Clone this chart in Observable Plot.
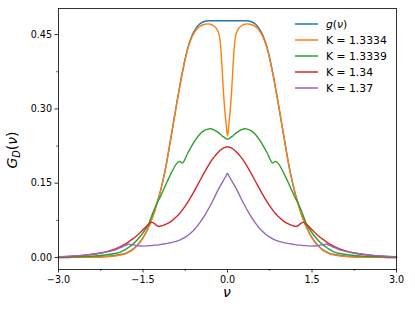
<!DOCTYPE html>
<html>
<head>
<meta charset="utf-8">
<script src="https://cdn.jsdelivr.net/npm/d3@7"></script>
<script src="https://cdn.jsdelivr.net/npm/@observablehq/plot@0.6"></script>
<style>
  body { margin: 0; background: #fff; }
  #wrap { position: relative; width: 415px; height: 311px; font-family: "DejaVu Sans", sans-serif; color: #000; }
  #legend { position: absolute; left: 295px; top: 16px; font-size: 10.8px; }
  .row { display: flex; align-items: center; height: 16px; white-space: nowrap; }
  .row svg { margin-right: 8px; display: block; }
  #ylab { position: absolute; left: 13px; top: 150px; transform: translate(-50%, -50%) rotate(-90deg); font-size: 14px; white-space: nowrap; }
  #xlab { position: absolute; left: 227px; top: 292px; transform: translate(-50%, -50%); font-size: 14px; }
  sub { font-size: 70%; vertical-align: -0.25em; }
</style>
</head>
<body>
<div id="wrap">
  <div id="chart"></div>
  <div id="legend"></div>
  <div id="ylab"><i>G</i><sub><i>D</i></sub>(<i>ν</i>)</div>
  <div id="xlab"><i>ν</i></div>
</div>
<script>
const nu = [-3.0,-2.75,-2.5,-2.25,-2.0,-1.9,-1.8,-1.75,-1.7,-1.6,-1.5,-1.4,-1.35,-1.3,-1.25,-1.2,-1.1,-1.0,-0.9,-0.85,-0.8,-0.7,-0.6,-0.5,-0.4,-0.3,-0.25,-0.2,-0.15,-0.125,-0.1,-0.075,-0.05,-0.025,0,0.025,0.05,0.075,0.1,0.125,0.15,0.2,0.25,0.3,0.4,0.5,0.6,0.7,0.8,0.85,0.9,1.0,1.1,1.2,1.25,1.3,1.35,1.4,1.5,1.6,1.7,1.75,1.8,1.9,2.0,2.25,2.5,2.75,3.0];

const gNu = [.0001,.0002,.0006,.0015,.004,.006,.009,.012,.015,.025,.040,.062,.076,.092,.111,.130,.180,.245,.312,.344,.375,.425,.455,.471,.477,.478,.478,.478,.478,.478,.478,.478,.478,.478,
  .478,
  .478,.478,.478,.478,.478,.478,.478,.478,.478,.477,.471,.455,.425,.375,.344,.312,.245,.180,.130,.111,.092,.076,.062,.040,.025,.015,.012,.009,.006,.004,.0015,.0006,.0002,.0001];

const k13334 = [.0001,.0002,.0004,.001,.003,.005,.008,.011,.014,.024,.039,.061,.075,.091,.110,.129,.179,.244,.311,.343,.373,.423,.452,.466,.471,.471,.468,.463,.450,.430,.390,.340,.300,.270,
  .245,
  .270,.300,.340,.390,.430,.450,.463,.468,.471,.471,.466,.452,.423,.373,.343,.311,.244,.179,.129,.110,.091,.075,.061,.039,.024,.014,.011,.008,.005,.003,.001,.0004,.0002,.0001];

const k13339 = [.0005,.001,.002,.004,.008,.011,.017,.021,.025,.036,.050,.068,.083,.097,.110,.121,.146,.170,.190,.194,.191,.212,.232,.248,.257,.260,.258,.255,.251,.249,.246,.244,.242,.240,
  .239,
  .240,.242,.244,.246,.249,.251,.255,.258,.260,.257,.248,.232,.212,.191,.194,.190,.170,.146,.121,.110,.097,.083,.068,.050,.036,.025,.021,.017,.011,.008,.004,.002,.001,.0005];

const k134 = [.0012,.0025,.005,.009,.017,.022,.028,.032,.036,.045,.056,.067,.071,.069,.064,.063,.067,.073,.083,.089,.096,.113,.132,.153,.174,.193,.201,.208,.214,.217,.219,.221,.222,.223,
  .223,
  .223,.222,.221,.219,.217,.214,.208,.201,.193,.174,.153,.132,.113,.096,.089,.083,.073,.067,.063,.064,.069,.071,.067,.056,.045,.036,.032,.028,.022,.017,.009,.005,.0025,.0012];

const k137 = [.0015,.003,.005,.009,.015,.020,.025,.027,.026,.024,.023,.024,.024,.025,.025,.026,.028,.030,.033,.035,.038,.045,.055,.069,.086,.106,.117,.129,.140,.145,.150,.155,.160,.165,
  .170,
  .165,.160,.155,.150,.145,.140,.129,.117,.106,.086,.069,.055,.045,.038,.035,.033,.030,.028,.026,.025,.025,.024,.024,.023,.024,.026,.027,.025,.020,.015,.009,.005,.003,.0015];

const seriesNames = ["g(ν)", "K = 1.3334", "K = 1.3339", "K = 1.34", "K = 1.37"];
const seriesValues = [gNu, k13334, k13339, k134, k137];
const colors = ["#1f77b4", "#ff7f0e", "#2ca02c", "#d62728", "#9467bd"];

const xTicks = [-3.0, -1.5, 0.0, 1.5, 3.0];
const xMinor = [-2.25, -0.75, 0.75, 2.25];
const yTicks = [0.00, 0.15, 0.30, 0.45];
const yMinor = [0.075, 0.225, 0.375];

const tables = seriesValues.map((vals, i) => nu.map((x, j) => ({nu: x, G: vals[j], series: seriesNames[i]})));

const fmtX = d => d.toFixed(1).replace("-", "\u2212");
const fmtY = d => d.toFixed(2);

const chart = Plot.plot({
  width: 415,
  height: 311,
  marginLeft: 58,
  marginRight: 19,
  marginTop: 8,
  marginBottom: 42,
  style: {fontFamily: "DejaVu Sans, sans-serif", fontSize: "9.6px", color: "#000", background: "#fff"},
  x: {domain: [-3, 3], label: null},
  y: {domain: [-0.0242, 0.5027], label: null},
  marks: [
    ...tables.map((t, i) => Plot.line(t, {x: "nu", y: "G", stroke: colors[i], strokeWidth: 1.4, curve: "catmull-rom"})),
    Plot.frame({stroke: "#000", strokeWidth: 0.8}),
    Plot.axisX({ticks: xTicks, tickFormat: fmtX, tickSize: 3.5, tickPadding: 3, stroke: "#000", strokeWidth: 0.8, fill: "#000", fontSize: 9.6}),
    Plot.axisX({ticks: xMinor, text: null, tickSize: 2, stroke: "#000", strokeWidth: 0.6}),
    Plot.axisY({ticks: yTicks, tickFormat: fmtY, tickSize: 3.5, tickPadding: 3, stroke: "#000", strokeWidth: 0.8, fill: "#000", fontSize: 9.6}),
    Plot.axisY({ticks: yMinor, text: null, tickSize: 2, stroke: "#000", strokeWidth: 0.6})
  ]
});
document.getElementById("chart").appendChild(chart);

const leg = document.getElementById("legend");
seriesNames.forEach((name, i) => {
  const row = document.createElement("div");
  row.className = "row";
  const sw = `<svg width="23" height="4"><line x1="0" y1="2" x2="23" y2="2" stroke="${colors[i]}" stroke-width="1.5"/></svg>`;
  const lab = i === 0 ? "<i>g</i>(<i>ν</i>)" : name;
  row.innerHTML = sw + "<span>" + lab + "</span>";
  leg.appendChild(row);
});
</script>
</body>
</html>
